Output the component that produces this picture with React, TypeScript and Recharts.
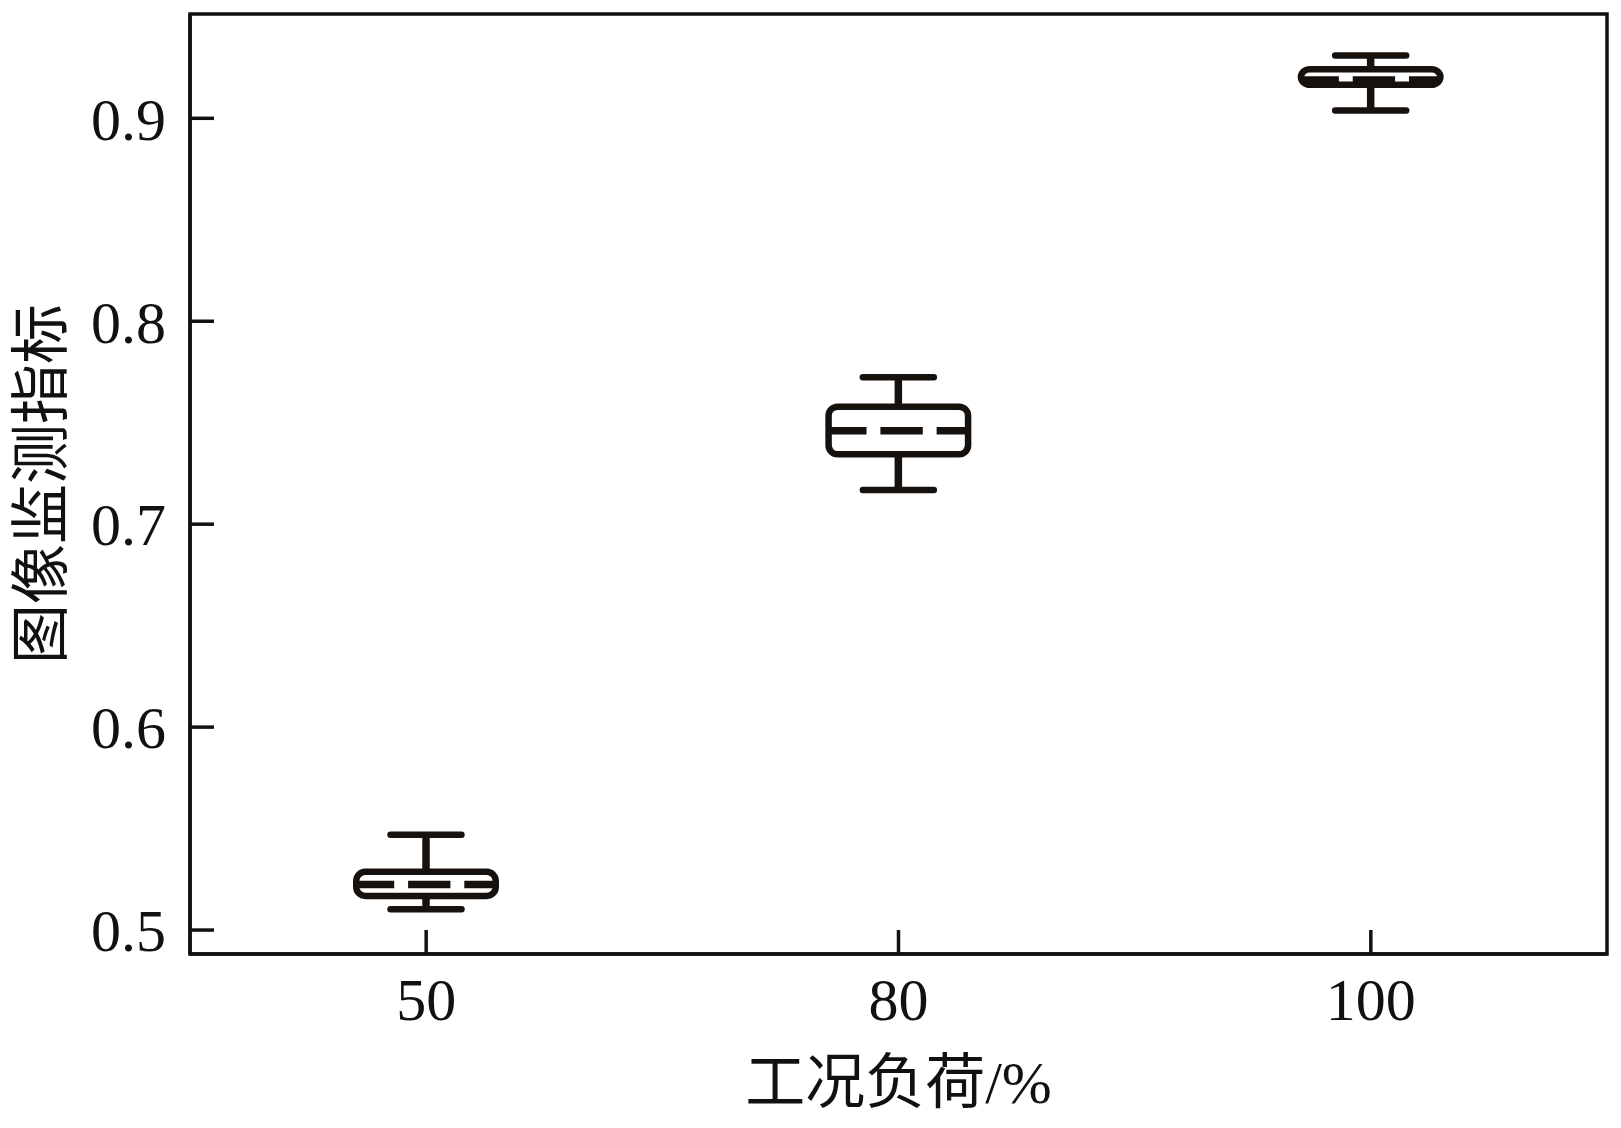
import React from 'react';
import { ComposedChart, Bar, XAxis, YAxis, Label, ReferenceArea } from 'recharts';

// ---- data ----
const categories = ['50', '80', '100'];
const whiskerLow = [0.5103, 0.7169, 0.9038];
const boxLow = [0.5168, 0.7344, 0.9165];
const medians = [0.5225, 0.7461, 0.9189];
const boxHigh = [0.5287, 0.7579, 0.9242];
const whiskerHigh = [0.547, 0.7724, 0.9309];
const yTicks = [0.5, 0.6, 0.7, 0.8, 0.9];
const yDomain: [number, number] = [0.4882, 0.9514];
const xTitle = '工况负荷/%';
const yTitle = '图像监测指标';

const data = categories.map((c, i) => ({
  load: c,
  min: whiskerLow[i],
  q1: boxLow[i],
  median: medians[i],
  q3: boxHigh[i],
  max: whiskerHigh[i],
}));

const INK = '#17110e';
const AXIS = '#111111';
const SERIF = '"Liberation Serif", "Times New Roman", serif';
const CJK = '"Liberation Serif", "Noto Sans CJK SC", serif';

const BoxShape = (props: any) => {
  const { x, y, width, height, payload } = props;
  if (!payload) return null;
  const top = Math.min(y, y + height);
  const h = Math.abs(height);
  const { min, q1, median, q3, max } = payload;
  const k = h / (max - min);
  const py = (v: number) => top + (max - v) * k;
  const cx = x + width / 2;
  const capHalf = width * 0.243;
  const sw = 6.5;
  const d1 = width * 0.26;
  const g = width * 0.095;
  const d2 = width * 0.29;
  return (
    <g>
      <line x1={cx} x2={cx} y1={py(max)} y2={py(q3)} stroke={INK} strokeWidth={7.5} />
      <line x1={cx} x2={cx} y1={py(q1)} y2={py(min)} stroke={INK} strokeWidth={7.5} />
      <line x1={cx - capHalf} x2={cx + capHalf} y1={py(max)} y2={py(max)} stroke={INK} strokeWidth={sw} strokeLinecap="round" />
      <line x1={cx - capHalf} x2={cx + capHalf} y1={py(min)} y2={py(min)} stroke={INK} strokeWidth={sw} strokeLinecap="round" />
      <rect
        x={x + sw / 2}
        y={py(q3)}
        width={width - sw}
        height={py(q1) - py(q3)}
        rx={9}
        ry={9}
        fill="#ffffff"
        stroke={INK}
        strokeWidth={sw}
      />
      <line
        x1={x + sw / 2}
        x2={x + width - sw / 2}
        y1={py(median)}
        y2={py(median)}
        stroke={INK}
        strokeWidth={7.5}
        strokeDasharray={`${d1} ${g} ${d2} ${g} ${d1 + 20}`}
      />
    </g>
  );
};

export default function App() {
  return (
    <div style={{ width: 1605, height: 1112, background: '#fff' }}>
      <ComposedChart
        width={1605}
        height={1112}
        data={data}
        margin={{ top: 6, right: 6, bottom: 0, left: 0 }}
      >
        <XAxis
          xAxisId="x"
          dataKey="load"
          type="category"
          height={166}
          axisLine={{ stroke: AXIS, strokeWidth: 3.5 }}
          tickLine={{ stroke: AXIS, strokeWidth: 3.5 }}
          tickSize={-24}
          tickMargin={47}
          tick={{ fontSize: 60, fontFamily: SERIF, fill: '#111' }}
          interval={0}
        >
          <Label
            content={(p: any) => {
              const vb = p.viewBox || {};
              const cx = vb.x + vb.width / 2;
              const cy = vb.y + 129;
              return (
                <text x={cx} y={cy} textAnchor="middle" dominantBaseline="central" fontSize={60} fontFamily={CJK} fill="#111">
                  {xTitle}
                </text>
              );
            }}
          />
        </XAxis>
        <YAxis
          yAxisId="y"
          type="number"
          domain={yDomain}
          allowDataOverflow
          ticks={yTicks}
          width={182}
          axisLine={{ stroke: AXIS, strokeWidth: 3.5 }}
          tickLine={{ stroke: AXIS, strokeWidth: 3.5 }}
          tickSize={-24}
          tickMargin={48}
          tickFormatter={(v: number) => v.toFixed(1)}
          tick={{ fontSize: 60, fontFamily: SERIF, fill: '#111' }}
        >
          <Label
            content={(p: any) => {
              const vb = p.viewBox || {};
              const cx = vb.x + 34;
              const cy = vb.y + vb.height / 2;
              return (
                <text
                  x={cx}
                  y={cy}
                  transform={`rotate(-90 ${cx} ${cy})`}
                  textAnchor="middle"
                  dominantBaseline="central"
                  fontSize={60}
                  fontFamily={CJK}
                  fill="#111"
                >
                  {yTitle}
                </text>
              );
            }}
          />
        </YAxis>
        <ReferenceArea
          xAxisId="x"
          yAxisId="y"
          y1={yDomain[0]}
          y2={yDomain[1]}
          fill="#ffffff"
          fillOpacity={0}
          stroke={AXIS}
          strokeWidth={3.5}
          ifOverflow="visible"
        />
        <Bar
          xAxisId="x"
          yAxisId="y"
          dataKey={(d: any) => [d.min, d.max]}
          barSize={146}
          shape={(p: any) => <BoxShape {...p} />}
          isAnimationActive={false}
        />
      </ComposedChart>
    </div>
  );
}
